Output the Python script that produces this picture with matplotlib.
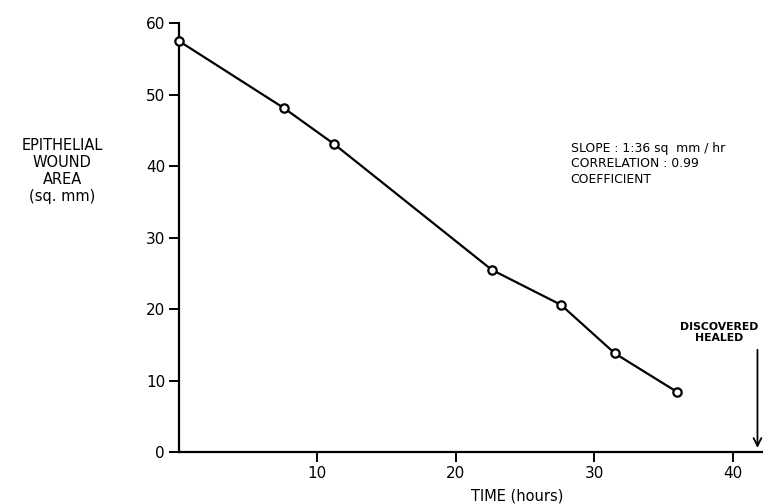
import matplotlib.pyplot as plt

plt.rcParams["font.family"] = ["DejaVu Sans"]

# wound area measurements
hours = [0.0, 7.6, 11.2, 22.6, 27.6, 31.5, 36.0]
area = [57.5, 48.1, 43.1, 25.5, 20.6, 13.8, 8.4]

x_ticks = [10, 20, 30, 40]
y_ticks = [0, 10, 20, 30, 40, 50, 60]
healed_hour = 41.8

fig = plt.figure(figsize=(7.63, 5.04), dpi=100)
ax = fig.add_axes([0.2346, 0.103, 0.7654, 0.851])

ax.plot(hours, area, color="black", linewidth=1.6, marker="o",
        markersize=6, markerfacecolor="white", markeredgecolor="black",
        markeredgewidth=1.6, clip_on=False, zorder=3)

ax.set_xlim(0, 42.2)
ax.set_ylim(0, 60)
ax.set_xticks(x_ticks)
ax.set_yticks(y_ticks)
ax.tick_params(axis="both", direction="out", length=7, width=1.4,
               labelsize=11, pad=3)

for side in ["top", "right"]:
    ax.spines[side].set_visible(False)
for side in ["left", "bottom"]:
    ax.spines[side].set_linewidth(1.6)

ax.text(0.579, -0.102, "TIME (hours)", transform=ax.transAxes,
        ha="center", va="center", fontsize=10.5)

ax.text(-0.2, 0.655,
        "EPITHELIAL\nWOUND\nAREA\n(sq. mm)",
        transform=ax.transAxes, ha="center", va="center",
        fontsize=10.5, linespacing=1.15)

ax.text(28.3, 43.4,
        "SLOPE : 1:36 sq  mm / hr\nCORRELATION : 0.99\nCOEFFICIENT",
        ha="left", va="top", fontsize=8.9, linespacing=1.25)

ax.annotate("", xy=(healed_hour, 0.2), xytext=(healed_hour, 14.7),
            arrowprops=dict(arrowstyle="->", color="black", lw=1.3,
                            mutation_scale=14),
            annotation_clip=False)
ax.text(39.0, 15.2, "DISCOVERED\nHEALED", ha="center", va="bottom",
        fontsize=7.8, fontweight="bold", linespacing=1.15)

plt.savefig("out.png", dpi=100)
